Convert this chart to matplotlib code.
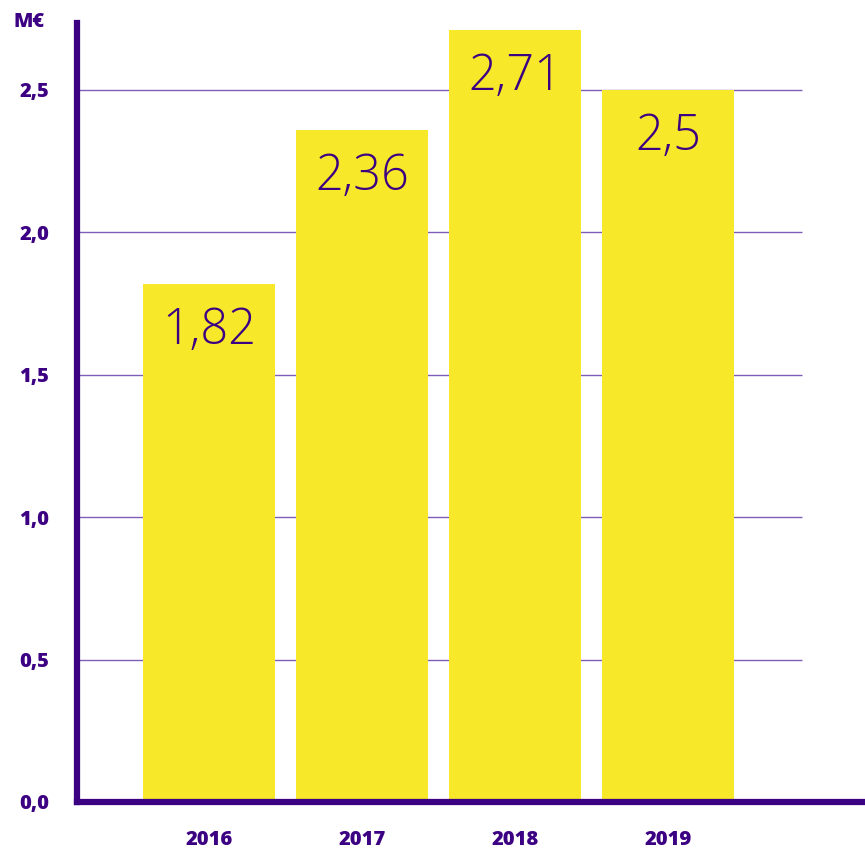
import matplotlib
matplotlib.use("Agg")
import matplotlib.pyplot as plt

years = ["2016", "2017", "2018", "2019"]
values = [1.82, 2.36, 2.71, 2.5]
value_labels = ["1,82", "2,36", "2,71", "2,5"]
yticks = [0.0, 0.5, 1.0, 1.5, 2.0, 2.5]
ytick_labels = ["0,0", "0,5", "1,0", "1,5", "2,0", "2,5"]
unit = "M€"

PURPLE = "#3c0082"
GRID = "#7d5fb8"
YELLOW = "#f7e829"

plt.rcParams['font.family'] = ['Open Sans', 'DejaVu Sans']

W, H = 865, 849
fig = plt.figure(figsize=(W / 100, H / 100), dpi=100)
left, right, bottom, top = 77, 865, 802, 23
ax = fig.add_axes([left / W, 1 - bottom / H, (right - left) / W, (bottom - top) / H])

x = list(range(len(years)))
ax.set_xlim(-0.863, 4.288)
ax.set_ylim(0, 2.735)

for yv in yticks[1:]:
    ax.hlines(yv, -0.863, 3.876, color=GRID, lw=1.0, zorder=1)

ax.bar(x, values, width=0.863, color=YELLOW, zorder=2)

for xi, v, lab in zip(x, values, value_labels):
    ax.annotate(lab, (xi, v), xytext=(0, -47), textcoords="offset pixels",
                ha="center", va="center", fontsize=35, fontweight=300,
                color=PURPLE, zorder=3)

for s in ["top", "right"]:
    ax.spines[s].set_visible(False)
for s in ["left", "bottom"]:
    ax.spines[s].set_color(PURPLE)
    ax.spines[s].set_linewidth(4.5)

ax.set_yticks(yticks)
ax.set_yticklabels(ytick_labels, fontsize=14.5, fontweight=800, color=PURPLE)
ax.set_xticks(x)
ax.set_xticklabels(years, fontsize=14.5, fontweight=800, color=PURPLE)
ax.tick_params(axis="both", length=0)
ax.tick_params(axis="y", pad=20)
ax.tick_params(axis="x", pad=20)

fig.text(29 / W, 1 - 22 / H, unit, ha="center", va="center", fontsize=14.5,
         fontweight=800, color=PURPLE)

fig.savefig("out.png", dpi=100)
